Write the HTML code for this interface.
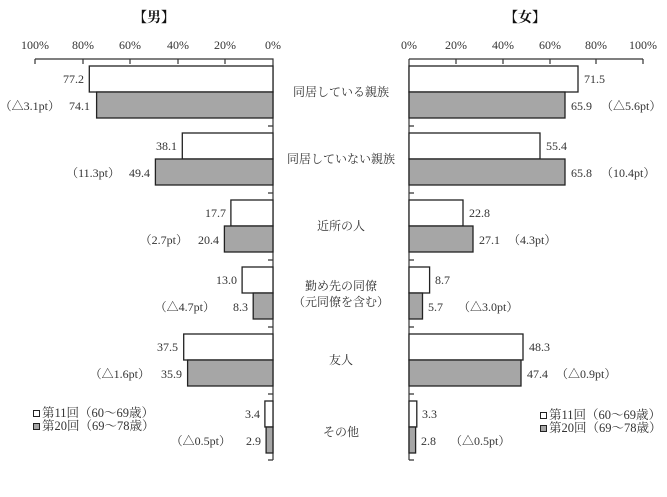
<!DOCTYPE html>
<html><head><meta charset="utf-8"><style>
html,body{margin:0;padding:0;background:#fff;}
svg{display:block;font-family:"Liberation Serif","Noto Serif CJK SC",serif;}
text{font-size:12px;fill:#333;}
</style></head><body>
<svg width="667" height="497" viewBox="0 0 667 497" xmlns="http://www.w3.org/2000/svg">
<text x="154" y="22" text-anchor="middle" style="font-size:14px;font-weight:bold;fill:#111">【男】</text>
<text x="525" y="22" text-anchor="middle" style="font-size:14px;font-weight:bold;fill:#111">【女】</text>
<g text-anchor="middle">
<text x="35" y="49">100%</text><text x="83" y="49">80%</text><text x="130" y="49">60%</text><text x="178" y="49">40%</text><text x="225" y="49">20%</text><text x="273" y="49">0%</text>
<text x="409" y="49">0%</text><text x="456" y="49">20%</text><text x="503" y="49">40%</text><text x="550" y="49">60%</text><text x="596" y="49">80%</text><text x="643" y="49">100%</text>
</g>
<g stroke="#333" stroke-width="1.2" fill="none">
<path d="M35 59H273V460M35 59v5M83 59v5M130 59v5M178 59v5M225 59v5"/>
<path d="M409 59H643M409 59V460M456 59v5M503 59v5M550 59v5M596 59v5M643 59v5"/>
<path d="M268 126h5M268 193h5M268 260h5M268 327h5M268 394h5M268 460h5"/>
<path d="M409 126h5M409 193h5M409 260h5M409 327h5M409 394h5M409 460h5"/>
</g>
<g stroke="#222" stroke-width="1.3">
<rect x="89.3" y="66" width="183.7" height="26" fill="#fff"/><rect x="96.6" y="92" width="176.4" height="26" fill="#a6a6a6"/>
<rect x="182.3" y="133" width="90.7" height="26" fill="#fff"/><rect x="155.4" y="159" width="117.6" height="26" fill="#a6a6a6"/>
<rect x="230.9" y="200" width="42.1" height="26" fill="#fff"/><rect x="224.4" y="226" width="48.6" height="26" fill="#a6a6a6"/>
<rect x="242.1" y="267" width="30.9" height="26" fill="#fff"/><rect x="253.2" y="293" width="19.8" height="26" fill="#a6a6a6"/>
<rect x="183.7" y="334" width="89.3" height="26" fill="#fff"/><rect x="187.6" y="360" width="85.4" height="26" fill="#a6a6a6"/>
<rect x="264.9" y="401" width="8.1" height="26" fill="#fff"/><rect x="266.1" y="427" width="6.9" height="26" fill="#a6a6a6"/>
<rect x="409" y="66" width="169" height="26" fill="#fff"/><rect x="409" y="92" width="156" height="26" fill="#a6a6a6"/>
<rect x="409" y="133" width="131" height="26" fill="#fff"/><rect x="409" y="159" width="156" height="26" fill="#a6a6a6"/>
<rect x="409" y="200" width="54" height="26" fill="#fff"/><rect x="409" y="226" width="64" height="26" fill="#a6a6a6"/>
<rect x="409" y="267" width="20.6" height="26" fill="#fff"/><rect x="409" y="293" width="13.5" height="26" fill="#a6a6a6"/>
<rect x="409" y="334" width="114" height="26" fill="#fff"/><rect x="409" y="360" width="112" height="26" fill="#a6a6a6"/>
<rect x="409" y="401" width="7.8" height="26" fill="#fff"/><rect x="409" y="427" width="6.6" height="26" fill="#a6a6a6"/>
</g>
<g text-anchor="end">
<text x="84" y="83">77.2</text><text x="90" y="110">74.1</text><text x="60" y="110">（△3.1pt）</text>
<text x="177" y="150">38.1</text><text x="150" y="177">49.4</text><text x="120" y="177">（11.3pt）</text>
<text x="226" y="217">17.7</text><text x="219" y="244">20.4</text><text x="188" y="244">（2.7pt）</text>
<text x="237" y="284">13.0</text><text x="248" y="311">8.3</text><text x="215" y="311">（△4.7pt）</text>
<text x="178" y="351">37.5</text><text x="182" y="378">35.9</text><text x="150" y="378">（△1.6pt）</text>
<text x="260" y="418">3.4</text><text x="261" y="445">2.9</text><text x="231" y="445">（△0.5pt）</text>
</g>
<g>
<text x="584" y="83">71.5</text><text x="571" y="110">65.9</text><text x="601" y="110">（△5.6pt）</text>
<text x="546" y="150">55.4</text><text x="571" y="177">65.8</text><text x="601" y="177">（10.4pt）</text>
<text x="469" y="217">22.8</text><text x="479" y="244">27.1</text><text x="508" y="244">（4.3pt）</text>
<text x="435" y="284">8.7</text><text x="428" y="311">5.7</text><text x="458" y="311">（△3.0pt）</text>
<text x="529" y="351">48.3</text><text x="527" y="378">47.4</text><text x="556" y="378">（△0.9pt）</text>
<text x="422" y="418">3.3</text><text x="421" y="445">2.8</text><text x="450" y="445">（△0.5pt）</text>
</g>
<g text-anchor="middle">
<text x="341" y="96">同居している親族</text>
<text x="341" y="163">同居していない親族</text>
<text x="341" y="230">近所の人</text>
<text x="341" y="290">勤め先の同僚</text>
<text x="341" y="306">（元同僚を含む）</text>
<text x="341" y="364">友人</text>
<text x="341" y="436">その他</text>
</g>
<g stroke="#222" stroke-width="1">
<rect x="33.5" y="410.5" width="6" height="6" fill="#fff"/><rect x="33.5" y="423.5" width="6" height="6" fill="#a6a6a6"/>
<rect x="540.5" y="412.5" width="6" height="6" fill="#fff"/><rect x="540.5" y="425.5" width="6" height="6" fill="#a6a6a6"/>
</g>
<g style="font-size:12.5px">
<text x="42" y="417" style="font-size:12.5px">第11回（60～69歳）</text>
<text x="42" y="430" style="font-size:12.5px">第20回（69～78歳）</text>
<text x="549" y="419" style="font-size:12.5px">第11回（60～69歳）</text>
<text x="549" y="432" style="font-size:12.5px">第20回（69～78歳）</text>
</g>
</svg>
</body></html>
